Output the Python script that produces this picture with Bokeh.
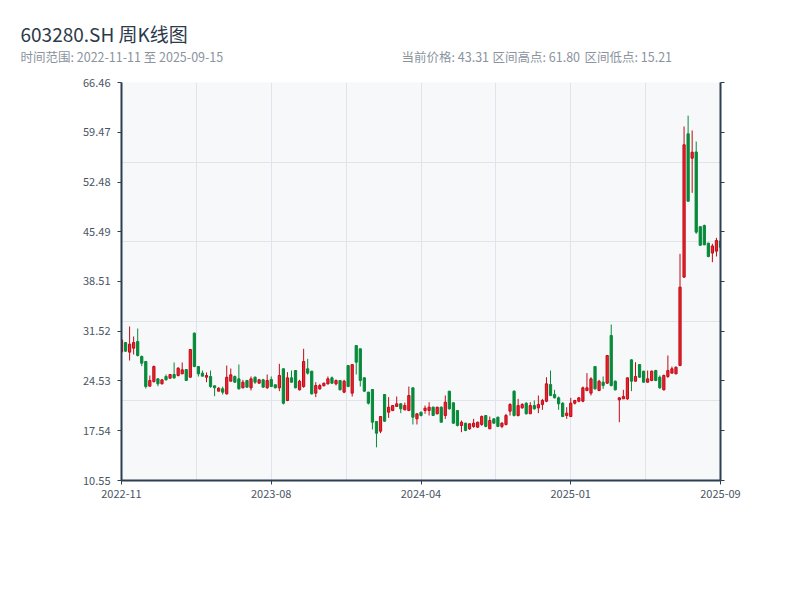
from bokeh.plotting import figure
from bokeh.layouts import column
from bokeh.models import (FixedTicker, LinearAxis, ColumnDataSource, Range1d,
                          CustomJSTickFormatter)
from bokeh.core.properties import value
from bokeh.embed import file_html
from bokeh.resources import INLINE

# ---------------- texts ----------------
title_text = "603280.SH 周K线图"
range_text = "时间范围: 2022-11-11 至 2025-09-15"
price_text = "当前价格: 43.31"
high_text = "区间高点: 61.80"
low_text = "区间低点: 15.21"

# ---------------- weekly OHLC ----------------
opens = [28.60, 29.93, 28.58, 29.14, 30.08, 27.97, 27.27, 23.80, 24.45, 24.83,
         24.13, 25.16, 24.92, 25.44, 25.30, 25.53, 26.14, 25.06, 31.25, 26.56,
         25.63, 25.06, 25.16, 23.85, 23.10, 23.43, 22.72, 24.50, 25.16, 24.83,
         23.57, 24.60, 23.57, 25.06, 24.22, 24.69, 23.57, 24.74, 24.00, 23.57,
         26.24, 21.79, 24.97, 26.00, 23.29, 23.75, 26.24, 25.91, 22.82, 23.43,
         23.85, 24.13, 24.97, 24.13, 24.60, 22.96, 26.70, 22.82, 29.51, 29.05,
         24.97, 22.96, 23.33, 18.84, 17.48, 22.63, 20.15, 20.38, 20.95, 21.32,
         20.48, 20.38, 23.57, 19.21, 20.15, 20.38, 20.38, 20.85, 19.92, 20.85,
         19.68, 23.10, 21.46, 20.38, 18.28, 18.60, 17.81, 18.14, 18.04, 18.42,
         19.68, 17.81, 19.21, 19.45, 18.14, 18.42, 20.29, 23.10, 19.68, 20.76,
         21.41, 19.92, 21.08, 20.76, 21.23, 21.69, 24.03, 22.63, 22.16, 21.41,
         19.68, 19.54, 21.41, 21.69, 21.69, 23.19, 22.82, 26.56, 23.19, 24.36,
         24.22, 30.92, 24.50, 21.88, 22.02, 22.02, 27.50, 24.50, 26.84, 25.91,
         24.36, 24.60, 26.00, 25.06, 23.29, 25.16, 25.63, 25.53, 26.71, 39.12,
         59.25, 55.83, 56.70, 46.20, 46.37, 43.89, 42.50, 42.77, 44.20]
highs = [30.40, 30.00, 32.18, 30.78, 31.90, 28.11, 27.30, 25.30, 26.70, 24.92,
         24.75, 25.44, 25.50, 27.13, 26.47, 27.13, 26.20, 29.00, 31.34, 26.60,
         26.00, 25.72, 26.00, 23.90, 23.66, 23.75, 26.70, 26.28, 25.30, 26.84,
         24.69, 24.65, 25.16, 25.16, 24.83, 24.83, 25.44, 25.16, 24.00, 26.94,
         26.30, 25.77, 26.00, 26.05, 24.69, 29.05, 27.64, 25.95, 24.36, 24.13,
         24.30, 25.16, 25.16, 24.74, 24.65, 24.69, 26.70, 26.84, 29.51, 29.05,
         25.06, 23.00, 23.40, 18.90, 19.54, 22.70, 22.26, 21.10, 22.35, 21.41,
         21.50, 23.75, 23.60, 19.95, 20.20, 21.08, 21.55, 20.95, 20.90, 20.95,
         22.49, 23.10, 21.55, 20.40, 18.98, 18.65, 18.60, 19.21, 18.80, 19.68,
         19.70, 19.54, 19.25, 19.50, 18.74, 19.92, 21.41, 23.20, 22.02, 21.41,
         21.55, 21.55, 21.79, 22.49, 22.02, 25.06, 26.00, 23.29, 22.35, 21.55,
         20.85, 22.16, 21.88, 22.26, 23.75, 25.63, 25.06, 26.60, 24.69, 25.16,
         28.11, 32.46, 24.60, 22.26, 23.29, 25.00, 27.55, 27.17, 26.90, 25.95,
         26.00, 26.00, 26.10, 25.30, 25.44, 28.11, 26.56, 26.56, 42.39, 60.28,
         61.80, 59.72, 58.17, 46.30, 46.50, 43.95, 43.80, 44.64, 44.30]
lows = [28.50, 28.60, 27.41, 28.25, 27.97, 26.61, 23.47, 23.80, 24.30, 23.80,
        24.05, 24.60, 24.85, 24.83, 25.16, 25.53, 24.55, 25.00, 26.47, 25.16,
        25.20, 24.36, 23.57, 22.40, 23.10, 22.63, 22.63, 24.50, 24.27, 23.33,
        23.50, 23.60, 23.19, 24.13, 24.20, 23.60, 23.43, 23.70, 23.50, 23.10,
        21.23, 21.69, 24.30, 23.50, 23.20, 23.57, 25.44, 22.63, 22.26, 23.29,
        23.80, 24.03, 24.13, 23.90, 23.20, 22.82, 23.66, 22.35, 25.44, 23.75,
        23.00, 21.23, 17.72, 15.21, 17.20, 18.80, 19.35, 20.30, 20.90, 20.01,
        20.40, 20.30, 18.42, 18.42, 19.54, 19.92, 19.68, 19.60, 19.85, 18.70,
        19.21, 20.50, 18.50, 18.14, 17.34, 17.48, 17.67, 17.95, 17.95, 18.23,
        18.04, 17.80, 18.55, 18.10, 17.90, 18.28, 19.68, 19.54, 19.54, 20.62,
        19.82, 19.90, 20.50, 20.01, 20.48, 21.55, 22.40, 22.10, 20.48, 19.45,
        19.21, 19.45, 21.23, 21.55, 21.55, 23.10, 22.49, 23.30, 23.10, 23.43,
        24.13, 23.75, 23.20, 18.74, 22.00, 21.88, 23.10, 24.50, 25.00, 24.30,
        24.30, 24.50, 24.50, 23.43, 23.20, 24.97, 25.60, 25.50, 26.60, 39.00,
        49.70, 50.96, 45.20, 43.50, 43.60, 41.90, 41.22, 42.02, 43.20]
closes = [30.30, 28.72, 29.70, 29.93, 28.11, 27.03, 23.75, 24.60, 26.56, 24.13,
          24.69, 24.69, 25.44, 24.97, 26.33, 26.10, 24.60, 28.95, 26.56, 25.53,
          25.21, 25.30, 23.75, 23.57, 23.52, 22.96, 25.06, 25.39, 24.36, 23.43,
          24.36, 23.66, 24.83, 24.36, 24.69, 23.66, 24.60, 23.75, 23.57, 25.30,
          21.41, 24.97, 24.36, 23.57, 24.50, 27.27, 25.63, 22.72, 23.89, 23.89,
          24.22, 24.83, 24.22, 24.60, 23.29, 24.50, 23.75, 26.84, 27.17, 24.60,
          23.10, 21.41, 18.74, 17.19, 19.54, 18.88, 20.85, 21.08, 21.32, 20.62,
          21.08, 22.49, 19.45, 19.92, 19.68, 20.71, 20.85, 19.68, 20.85, 18.74,
          21.55, 20.62, 18.60, 18.28, 18.74, 17.57, 18.51, 18.60, 18.74, 19.54,
          18.14, 18.98, 18.60, 18.14, 18.60, 19.68, 21.23, 19.68, 21.08, 21.23,
          19.92, 21.08, 20.62, 21.23, 21.79, 24.13, 22.49, 22.16, 21.32, 19.54,
          20.01, 21.41, 21.79, 22.16, 23.57, 23.57, 24.83, 23.43, 24.50, 23.89,
          28.11, 23.89, 23.29, 22.16, 22.35, 24.97, 24.50, 25.16, 25.06, 24.36,
          24.83, 25.91, 24.60, 23.57, 25.30, 26.00, 26.24, 26.47, 37.71, 57.71,
          49.79, 56.67, 45.44, 43.60, 43.66, 42.02, 43.50, 44.27, 43.31]

y_tick_labels = ["10.55", "17.54", "24.53", "31.52", "38.51", "45.49", "52.48", "59.47", "66.46"]
x_tick_index = [0, 37, 74, 111, 148]
x_tick_labels = ["2022-11", "2023-08", "2024-04", "2025-01", "2025-09"]

# ---------------- styling ----------------
UP_FILL, UP_LINE = "#e8262f", "#c20a16"
DN_FILL, DN_LINE = "#078a3a", "#078a3a"
AXIS_COLOR = "#2c3e50"
LABEL_COLOR = "#4a5563"
FONT = "Noto Sans CJK SC"
W = 784
HEAD_H = 72
H = 508          # main chart height; header + chart = 580

# ---------------- header (title + subtitles) ----------------
head = figure(width=W, height=HEAD_H, output_backend="svg", toolbar_location=None,
              x_range=Range1d(0, W), y_range=Range1d(HEAD_H, 0),
              min_border_left=0, min_border_right=0, min_border_top=0, min_border_bottom=0,
              outline_line_color=None, background_fill_color="white",
              border_fill_color="white")
head.axis.visible = False
head.grid.visible = False
head.text(x=[20], y=[33], text=[title_text], text_font=value(FONT),
          text_font_size="19px", text_color="#2d3a4a", text_baseline="alphabetic")
head.text(x=[20, 401, 492, 584], y=[56, 56, 56, 56],
          text=[range_text, price_text, high_text, low_text], text_font=value(FONT),
          text_font_size="12.5px", text_color="#8a939e", text_baseline="alphabetic")

# ---------------- candlestick chart ----------------
n = len(opens)
xs = list(range(n))
up = [c >= o for o, c in zip(opens, closes)]
src = ColumnDataSource(dict(
    x=xs, open=opens, high=highs, low=lows, close=closes,
    top=[max(o, c) for o, c in zip(opens, closes)],
    bottom=[min(o, c) for o, c in zip(opens, closes)],
    fill=[UP_FILL if u else DN_FILL for u in up],
    line=[UP_LINE if u else DN_LINE for u in up],
))

y_ticks = [float(s) for s in y_tick_labels]
y_min, y_max = y_ticks[0], y_ticks[-1]

p = figure(width=W, height=H, output_backend="svg", toolbar_location=None,
           x_range=Range1d(0, n - 1), y_range=Range1d(y_min, y_max),
           min_border_left=121, min_border_right=W - 720, min_border_top=82 - HEAD_H,
           min_border_bottom=HEAD_H + H - 480,
           background_fill_color="#f6f8fa", border_fill_color="white",
           outline_line_color=None)

for fig in (head, p):
    if "frame_align" in fig.properties():
        fig.frame_align = False

p.segment(x0="x", y0="high", x1="x", y1="low", line_color="line", line_width=1, source=src)
p.vbar(x="x", top="top", bottom="bottom", width=0.55, fill_color="fill",
       line_color="line", line_width=1, source=src)

# grid: 8 vertical divisions, 5 horizontal divisions
p.xgrid.ticker = FixedTicker(ticks=[(n - 1) * k / 8 for k in range(1, 8)])
p.ygrid.ticker = FixedTicker(ticks=[y_min + (y_max - y_min) * k / 5 for k in range(1, 5)])
for g in (p.xgrid, p.ygrid):
    g.grid_line_color = "#e1e4ea"
    g.grid_line_width = 1

def style_axis(ax):
    ax.axis_line_color = AXIS_COLOR
    ax.axis_line_width = 2
    ax.major_tick_line_color = AXIS_COLOR
    ax.major_tick_line_width = 1
    ax.major_tick_out = 4
    ax.major_tick_in = 0
    ax.minor_tick_line_color = None
    ax.major_label_text_color = LABEL_COLOR
    ax.major_label_text_font = FONT
    ax.major_label_text_font_size = "11px"

yax = p.yaxis[0]
yax.ticker = FixedTicker(ticks=y_ticks)
yax.major_label_overrides = {t: s for t, s in zip(y_ticks, y_tick_labels)}
style_axis(yax)
yax.major_label_standoff = 7

xax = p.xaxis[0]
xax.ticker = FixedTicker(ticks=x_tick_index)
xax.major_label_overrides = {t: s for t, s in zip(x_tick_index, x_tick_labels)}
style_axis(xax)
xax.major_label_standoff = 5

rax = LinearAxis(ticker=FixedTicker(ticks=y_ticks),
                 formatter=CustomJSTickFormatter(code="return ''"))
style_axis(rax)
p.add_layout(rax, "right")

layout = column(head, p, spacing=0)
open("out.html", "w").write(file_html(layout, INLINE))
